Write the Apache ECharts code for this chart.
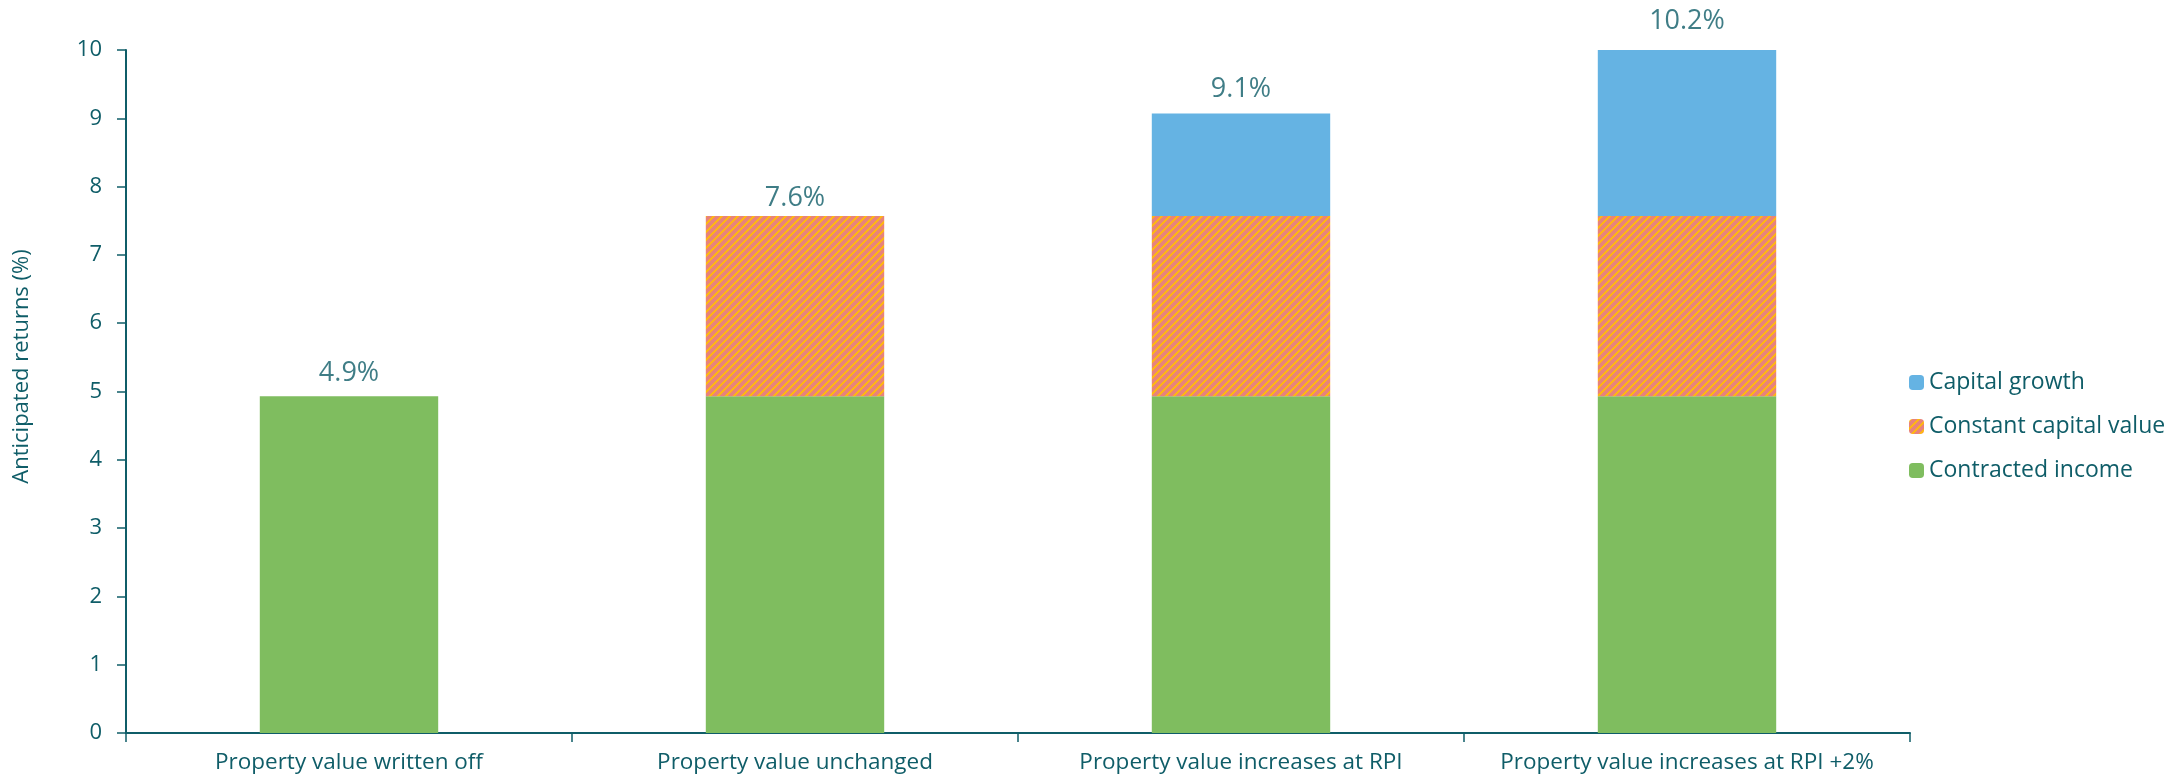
<!DOCTYPE html>
<html>
<head>
<meta charset="utf-8">
<title>Anticipated returns</title>
<script src="https://cdn.jsdelivr.net/npm/echarts@6/dist/echarts.min.js"></script>
<style>
html,body{margin:0;padding:0;background:#fff;}
#returnsChart{width:2182px;height:781px;}
</style>
</head>
<body>
<div id="returnsChart"></div>
<script>
/**
 * anticipated returns by property value scenario
 */
var categories = ['Property value written off','Property value unchanged','Property value increases at RPI','Property value increases at RPI +2%'];
var contractedIncome = [4.93, 4.93, 4.93, 4.93];
var constantCapital = [0, 2.64, 2.64, 2.64];
var capitalGrowth = [0, 0, 1.5, 2.63];
var totalLabels = ['4.9%','7.6%','9.1%','10.2%'];
var yTicks = [0, 10, 1];

var textColor = '#0f5d68';
var fontName = 'Open Sans';

// hatch for constant capital value
function makeHatch(){
	var c = document.createElement('canvas');
	c.width = 8;
	c.height = 8;
	var ctx = c.getContext('2d');
	ctx.fillStyle = '#e8837a';
	ctx.fillRect(0,0,8,8);
	ctx.fillStyle = '#fdb417';
	for(var x=0;x<8;x++){
		for(var y=0;y<8;y++){
			if((x+y)%8 < 3){
				ctx.fillRect(x,y,1,1);
			}
		}
	}
	return c;
}

var topValues = [];
for(var i=0;i<categories.length;i++){
	var sum = contractedIncome[i] + constantCapital[i] + capitalGrowth[i];
	topValues.push(Math.min(sum, yTicks[1]));
}
var labelGaps = [9, 4, 11, 15];
var labelData = [];
for(var i=0;i<topValues.length;i++){
	labelData.push({
		value: topValues[i],
		label: {distance: labelGaps[i]}
	});
}

var myChart = echarts.init(document.getElementById('returnsChart'));
var option = {
	animation: false,
	textStyle: {fontFamily: fontName, color: textColor},
	grid: {
		left: 126,
		right: 272,
		top: 50,
		bottom: 48
	},
	legend: {
		orient: 'vertical',
		left: 1904,
		top: 366,
		itemWidth: 15,
		itemHeight: 15,
		itemGap: 21,
		data: ['Capital growth','Constant capital value','Contracted income'],
		textStyle: {fontSize: 23, color: textColor, fontFamily: fontName, lineHeight: 23}
	},
	xAxis: {
		type: 'category',
		data: categories,
		axisLine: {lineStyle: {color: textColor, width: 2}},
		axisTick: {show: true, length: 9, lineStyle: {color: textColor, width: 1.5}},
		axisLabel: {fontSize: 22.5, color: textColor, margin: 18, interval: 0}
	},
	yAxis: {
		type: 'value',
		min: yTicks[0],
		max: yTicks[1],
		interval: yTicks[2],
		name: 'Anticipated returns (%)',
		nameLocation: 'middle',
		nameGap: 93,
		nameTextStyle: {fontSize: 22, color: textColor, padding: [0,0,0,50]},
		splitLine: {show: false},
		axisLine: {show: true, lineStyle: {color: textColor, width: 2}},
		axisTick: {show: true, length: 9, lineStyle: {color: textColor, width: 1.5}},
		axisLabel: {fontSize: 22, color: textColor, margin: 24}
	},
	series: [
		{
			name: 'Contracted income',
			type: 'bar',
			stack: 'total',
			barWidth: '40%',
			itemStyle: {color: '#7fbd5f'},
			data: contractedIncome
		},{
			name: 'Constant capital value',
			type: 'bar',
			stack: 'total',
			itemStyle: {color: {image: makeHatch(), repeat: 'repeat'}},
			data: constantCapital
		},{
			name: 'Capital growth',
			type: 'bar',
			stack: 'total',
			itemStyle: {color: '#65b3e3'},
			data: capitalGrowth
		},{
			name: 'Total',
			type: 'scatter',
			symbolSize: 0,
			silent: true,
			label: {
				show: true,
				position: 'top',
				fontSize: 27,
				color: textColor,
				formatter: function(p){ return totalLabels[p.dataIndex]; }
			},
			data: labelData
		}
	]
};
myChart.setOption(option);
</script>
</body>
</html>
